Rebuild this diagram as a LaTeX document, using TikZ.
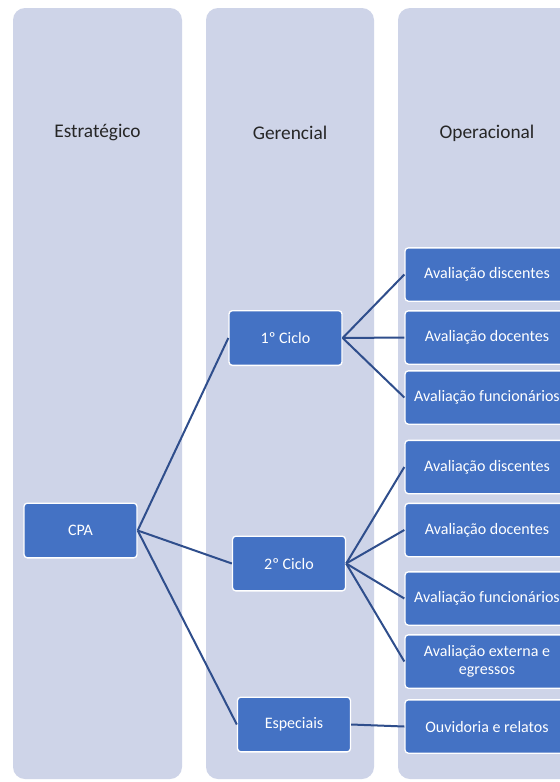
\documentclass[tikz,border=0pt]{standalone}
\usepackage{fontspec}
\setmainfont{Carlito}
\usepackage{xcolor}
\definecolor{laneblue}{HTML}{CED4E8}
\definecolor{boxblue}{HTML}{4472C4}
\definecolor{linkblue}{HTML}{2F4E8C}
\definecolor{headtext}{HTML}{262626}
\usetikzlibrary{positioning}

\begin{document}
\begin{tikzpicture}[
    x=0.75pt, y=-0.75pt,
    lane/.style={fill=laneblue, draw=none, rounded corners=9pt},
    head/.style={font=\fontsize{14.5}{17}\selectfont, text=headtext},
    unit/.style={rectangle, rounded corners=2.5pt, fill=boxblue, draw=white, line width=1pt,
        text=white, font=\fontsize{12}{13.5}\selectfont, align=center,
        minimum width=84.75pt, minimum height=41pt, inner sep=1pt},
    task/.style={unit, minimum width=123pt, minimum height=40pt},
    link/.style={linkblue, line width=1.5pt},
]
\useasboundingbox (0,0) rectangle (560,782);
\clip (0,0) rectangle (560,782);

% faixas dos tres niveis
\fill[white] (0,0) rectangle (560,782);
\draw[lane] (13,8) rectangle (182,779);
\draw[lane] (206,8) rectangle (374,779);
\draw[lane] (398,8) rectangle (576,779);

\node[head] (h1) at (97.5,133) {Estratégico};
\node[head] (h2) at (290,133) {Gerencial};
\node[head] (h3) at (487,133) {Operacional};

% nivel estrategico e gerencial
\node[unit] (cpa) at (80.5,530.5) {CPA};
\node[unit] (c1) at (285.5,338) {1º Ciclo};
\node[unit] (c2) at (289,563.5) {2º Ciclo};
\node[unit] (esp) at (294,724.5) {Especiais};

% nivel operacional
\node[task] (d1) at (487,274.5) {Avaliação discentes};
\node[task] (o1) at (487,337.5) {Avaliação docentes};
\node[task] (f1) at (487,397.5) {Avaliação funcionários};
\node[task] (d2) at (487,467) {Avaliação discentes};
\node[task] (o2) at (487,530) {Avaliação docentes};
\node[task] (f2) at (487,598.5) {Avaliação funcionários};
\node[task] (e2) at (487,661.5) {Avaliação externa e\\egressos};
\node[task] (ouv) at (487,726.5) {Ouvidoria e relatos};

% ligacoes
\foreach \t in {c1,c2,esp}
    \draw[link] (cpa.east) -- (\t.west);
\foreach \t in {d1,o1,f1}
    \draw[link] (c1.east) -- (\t.west);
\foreach \t in {d2,o2,f2,e2}
    \draw[link] (c2.east) -- (\t.west);
\draw[link] (esp.east) -- (ouv.west);

\end{tikzpicture}
\end{document}
